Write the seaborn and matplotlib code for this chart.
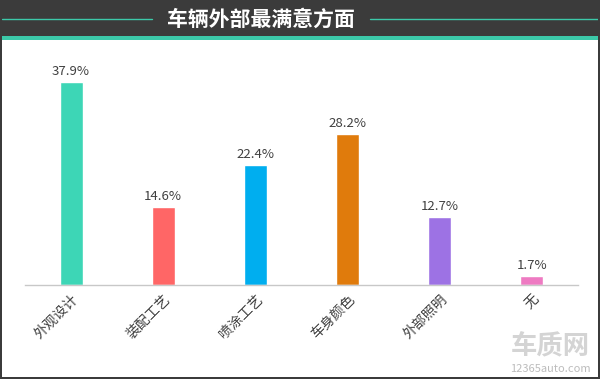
import matplotlib
matplotlib.use('Agg')
import matplotlib.pyplot as plt
import seaborn as sns
import pandas as pd
from matplotlib.patches import Rectangle
from matplotlib.lines import Line2D

categories = ['外观设计', '装配工艺', '喷涂工艺', '车身颜色', '外部照明', '无']
values = [37.9, 14.6, 22.4, 28.2, 12.7, 1.7]
colors = ['#3DD6B6', '#FF6666', '#00AEEF', '#E07B0C', '#9D72E4', '#EE7AC2']
title = '车辆外部最满意方面'

sns.set_theme(style='white')
plt.rcParams['font.family'] = ['Noto Sans CJK SC', 'DejaVu Sans']

W, H = 600, 379
fig = plt.figure(figsize=(W / 100, H / 100), dpi=100)
fig.patch.set_facecolor('white')

# header band
fig.patches.append(Rectangle((0, 1 - 36 / H), 1, 36 / H, transform=fig.transFigure,
                             facecolor='#3b3b3b', edgecolor='none', zorder=0))
fig.patches.append(Rectangle((0, 1 - 40 / H), 1, 4 / H, transform=fig.transFigure,
                             facecolor='#3CC9A9', edgecolor='none', zorder=1))
yl = 1 - 18.5 / H
fig.lines.append(Line2D([2 / W, 152 / W], [yl, yl], transform=fig.transFigure, color='#3CC9A9', lw=1))
fig.lines.append(Line2D([370 / W, 598 / W], [yl, yl], transform=fig.transFigure, color='#3CC9A9', lw=1))
fig.text(261 / W, 1 - 19 / H, title, ha='center', va='center', color='white',
         fontsize=15, fontweight='bold')

# outer frame
for rect in [(0, 0, 2 / W, 1), (1 - 2 / W, 0, 2 / W, 1), (0, 0, 1, 2.5 / H)]:
    fig.patches.append(Rectangle(rect[:2], rect[2], rect[3], transform=fig.transFigure,
                                 facecolor='#3b3b3b', edgecolor='none', zorder=2))

ax = fig.add_axes([25 / W, 94 / H, 553 / W, (285 - 44) / H])
df = pd.DataFrame({'cat': categories, 'val': values})
sns.barplot(data=df, x='cat', y='val', hue='cat', palette=colors, width=0.25,
            legend=False, ax=ax, saturation=1)
ax.set_ylim(0, 45)
ax.set_xlim(-0.5, len(categories) - 0.5)
for i, v in enumerate(values):
    ax.text(i, v + 0.8, f'{v}%', ha='center', va='bottom', fontsize=9.5, color='#404040')
ax.set_xlabel('')
ax.set_ylabel('')
ax.set_yticks([])
for s in ['top', 'right', 'left']:
    ax.spines[s].set_visible(False)
ax.spines['bottom'].set_color('#c8c8c8')
ax.spines['bottom'].set_linewidth(1)
ax.tick_params(axis='x', length=0, pad=5)
plt.setp(ax.get_xticklabels(), rotation=45, ha='right', rotation_mode='anchor',
         fontsize=10, color='#404040')
ax.set_facecolor('white')

# watermark
fig.text(550 / W, 1 - 347 / H, '车质网', ha='center', va='center', fontsize=19,
         color='#d4d4d4', fontweight='bold')
fig.text(550 / W, 1 - 369 / H, '12365auto.com', ha='center', va='center', fontsize=8,
         color='#bcbcbc')

fig.savefig('out.png', dpi=100)
